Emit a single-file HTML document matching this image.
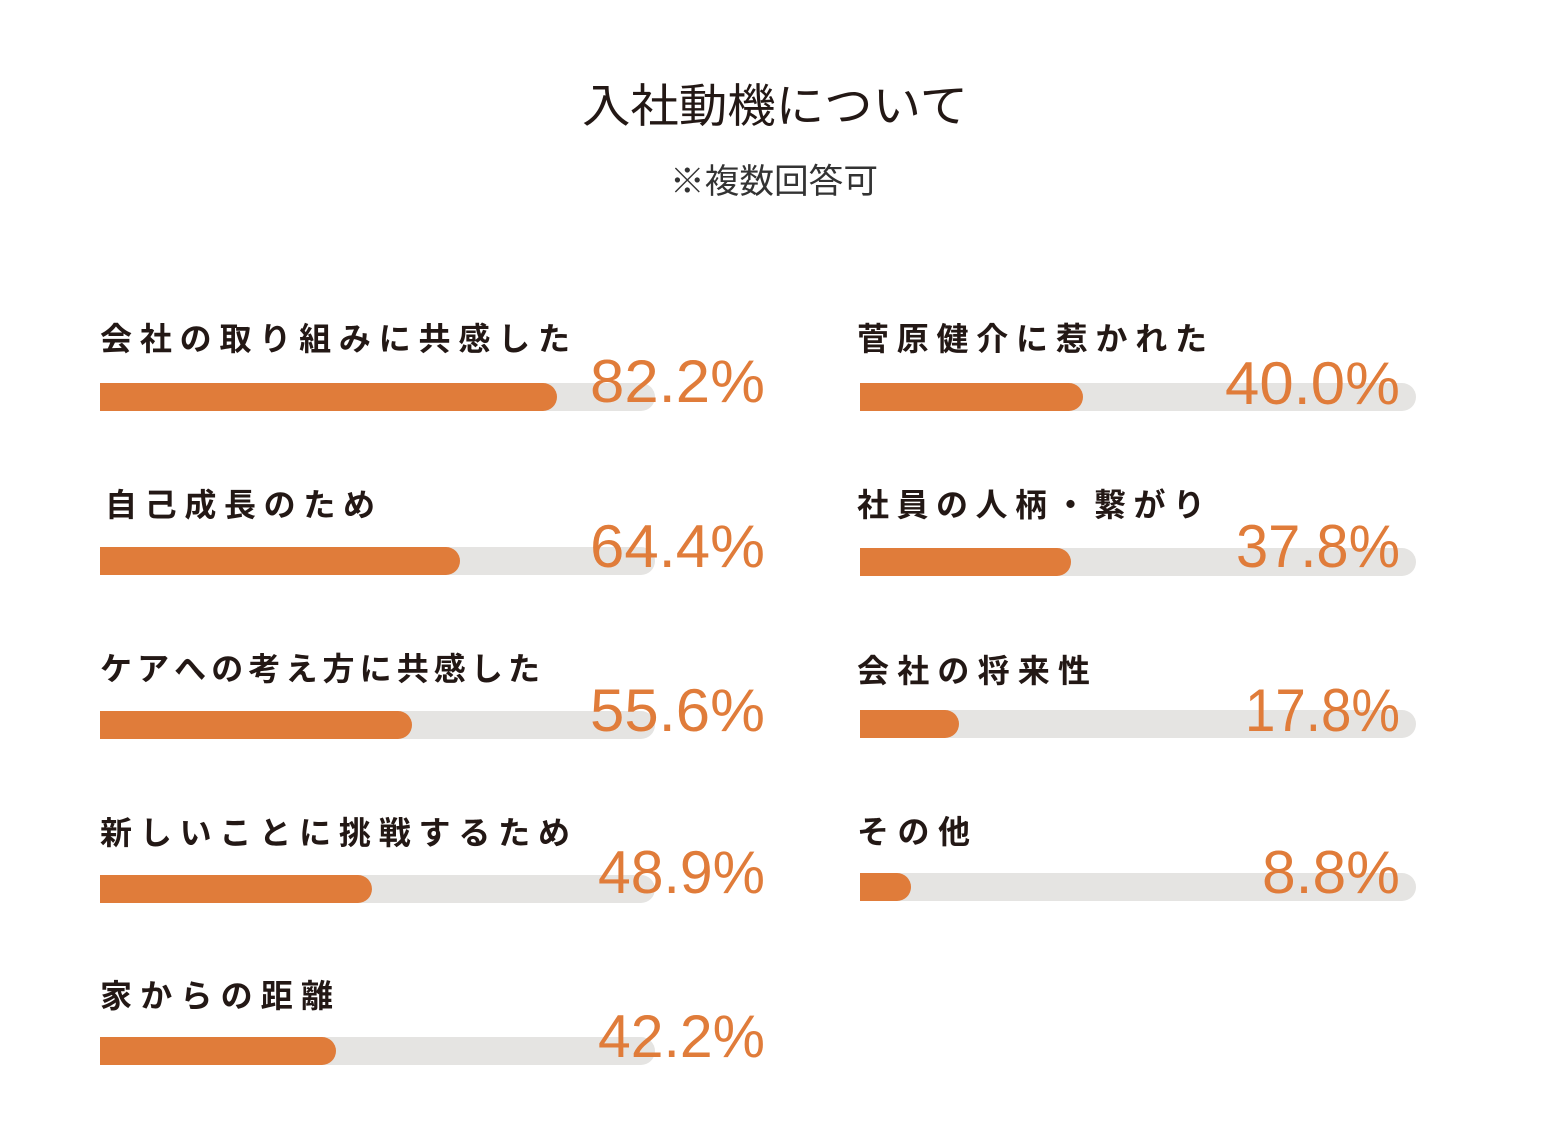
<!DOCTYPE html>
<html><head><meta charset="utf-8"><style>
html,body{margin:0;padding:0;background:#fff;}
svg{display:block;}
.t{font-family:"Liberation Sans","Noto Sans CJK JP",sans-serif;}
.lab{font-family:"Liberation Sans","Noto Sans CJK JP",sans-serif;font-weight:bold;font-size:32px;fill:#231815;}
.pct{font-family:"Liberation Sans",sans-serif;font-size:60px;fill:#E07C3A;}
</style></head><body>
<svg width="1562" height="1128" viewBox="0 0 1562 1128">
<text class="t" x="582" y="122" font-size="46" fill="#231815" textLength="386" lengthAdjust="spacingAndGlyphs">入社動機について</text>
<text class="t" x="670" y="193" font-size="34" fill="#333" textLength="208" lengthAdjust="spacingAndGlyphs">※複数回答可</text>

<g fill="#E5E4E2">
<rect x="100" y="383" width="555" height="28" rx="14"/>
<rect x="100" y="547" width="555" height="28" rx="14"/>
<rect x="100" y="711" width="555" height="28" rx="14"/>
<rect x="100" y="875" width="555" height="28" rx="14"/>
<rect x="100" y="1037" width="555" height="28" rx="14"/>
<rect x="860" y="383" width="556" height="28" rx="14"/>
<rect x="860" y="548" width="556" height="28" rx="14"/>
<rect x="860" y="710" width="556" height="28" rx="14"/>
<rect x="860" y="873" width="556" height="28" rx="14"/>
</g>
<g fill="#E07C3A">
<path d="M100 383H543A14 14 0 0 1 543 411H100Z"/>
<path d="M100 547H446A14 14 0 0 1 446 575H100Z"/>
<path d="M100 711H398A14 14 0 0 1 398 739H100Z"/>
<path d="M100 875H358A14 14 0 0 1 358 903H100Z"/>
<path d="M100 1037H322A14 14 0 0 1 322 1065H100Z"/>
<path d="M860 383H1069A14 14 0 0 1 1069 411H860Z"/>
<path d="M860 548H1057A14 14 0 0 1 1057 576H860Z"/>
<path d="M860 710H945A14 14 0 0 1 945 738H860Z"/>
<path d="M860 873H897A14 14 0 0 1 897 901H860Z"/>
</g>

<text class="lab" x="100" y="350" textLength="470" lengthAdjust="spacing">会社の取り組みに共感した</text>
<text class="lab" x="105" y="516" textLength="270" lengthAdjust="spacing">自己成長のため</text>
<text class="lab" x="100" y="680" textLength="440" lengthAdjust="spacing">ケアへの考え方に共感した</text>
<text class="lab" x="100" y="844" textLength="470" lengthAdjust="spacing">新しいことに挑戦するため</text>
<text class="lab" x="100" y="1007" textLength="233" lengthAdjust="spacing">家からの距離</text>
<text class="lab" x="857" y="350" textLength="350" lengthAdjust="spacing">菅原健介に惹かれた</text>
<text class="lab" x="857" y="516" textLength="348" lengthAdjust="spacing">社員の人柄・繋がり</text>
<text class="lab" x="857" y="682" textLength="233" lengthAdjust="spacing">会社の将来性</text>
<text class="lab" x="857" y="843" textLength="113" lengthAdjust="spacing">その他</text>

<text class="pct" x="590" y="402" textLength="175" lengthAdjust="spacingAndGlyphs">82.2%</text>
<text class="pct" x="590" y="567" textLength="175" lengthAdjust="spacingAndGlyphs">64.4%</text>
<text class="pct" x="590" y="731" textLength="175" lengthAdjust="spacingAndGlyphs">55.6%</text>
<text class="pct" x="598" y="893" textLength="167" lengthAdjust="spacingAndGlyphs">48.9%</text>
<text class="pct" x="598" y="1057" textLength="167" lengthAdjust="spacingAndGlyphs">42.2%</text>
<text class="pct" x="1225" y="404" textLength="175" lengthAdjust="spacingAndGlyphs">40.0%</text>
<text class="pct" x="1236" y="567" textLength="164" lengthAdjust="spacingAndGlyphs">37.8%</text>
<text class="pct" x="1245" y="731" textLength="155" lengthAdjust="spacingAndGlyphs">17.8%</text>
<text class="pct" x="1262" y="893" textLength="138" lengthAdjust="spacingAndGlyphs">8.8%</text>
</svg>
</body></html>
